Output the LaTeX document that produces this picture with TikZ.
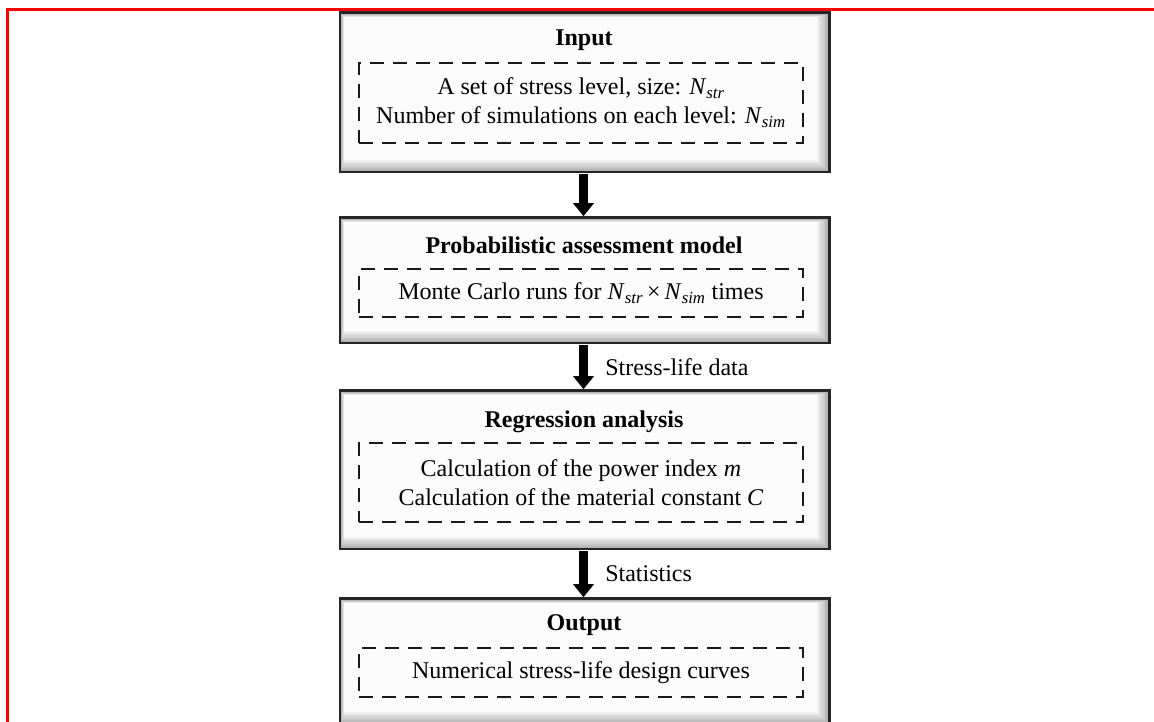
\documentclass[tikz,border=0pt]{standalone}
\usepackage{fontspec}
\setmainfont{Liberation Serif}
\usepackage{tikz}
\usetikzlibrary{positioning, arrows.meta, calc}
\tikzset{
  flowchart/.style={
	x=1pt, y=1pt, % one unit is one pixel of the picture
	font=\fontsize{24}{29}\selectfont, % size of all texts
  },
  stagebox/.style={draw=black!85, line width=2.5pt, fill=gray!65, minimum width=487pt, inner sep=0pt}, % the outer bevelled frame
  heading/.style={font=\fontsize{24}{29}\selectfont\bfseries, inner sep=0pt}, % bold title of a stage
  detail/.style={draw=black!90, line width=1.8pt, dash pattern=on 14pt off 9pt, minimum width=444pt, align=center, inner sep=0pt}, % dashed inner box
  flowarrow/.style={-{Triangle[width=20pt, length=13pt]}, line width=9.5pt, black, shorten <=2pt, shorten >=1.5pt}, % thick arrow between stages
  edgelabel/.style={right=17pt, inner sep=0pt, anchor=west}, % text beside an arrow
}
% bevel inside a stage box, drawn as layers from grey to white
\newcommand{\bevel}[1]{%
  \foreach \k in {0,...,10}{
	\pgfmathsetmacro{\shade}{int(62-6*\k)}
	\fill[gray!\shade] ($(#1.north west)+(1.2+0.35*\k,-1.2-0.35*\k)$) rectangle ($(#1.south east)+(-1.2-1.1*\k,1.2+1.1*\k)$);
  }
  \draw[draw=black!85, line width=2.5pt] (#1.north west) rectangle (#1.south east);
}
\newcommand{\Nsub}[1]{\textit{N}\textsubscript{\textit{#1}}}

\begin{document}
\begin{tikzpicture}[flowchart]
	  \useasboundingbox (0,0) rectangle (1154,722);
	  \draw[red, line width=3pt] (7.5,0) |- (1154,712);
	  % stages
	  \node[stagebox, minimum height=157pt] (inp) at (584.5,629.5) {};
	  \bevel{inp}
	  \node[heading] (inpT) at (584,682) {Input};
	  \node[detail, minimum height=80pt] (inpD) at (581,619) {A set of stress level, size: \Nsub{str}\\Number of simulations on each level: \Nsub{sim}};
	  \node[stagebox, minimum height=123pt] (pam) at (584.5,441.5) {};
	  \bevel{pam}
	  \node[heading] (pamT) at (584,477) {Probabilistic assessment model};
	  \node[detail, minimum height=48pt] (pamD) at (581,429) {Monte Carlo runs for \Nsub{str}\,×\,\Nsub{sim} times};
	  \node[stagebox, minimum height=156pt] (reg) at (584.5,252) {};
	  \bevel{reg}
	  \node[heading] (regT) at (584,300) {Regression analysis};
	  \node[detail, minimum height=79pt] (regD) at (581,239.5) {Calculation of the power index \textit{m}\\Calculation of the material constant \textit{C}};
	  \node[stagebox, minimum height=123pt] (out) at (584.5,60.5) {};
	  \bevel{out}
	  \node[heading] (outT) at (584,97) {Output};
	  \node[detail, minimum height=49pt] (outD) at (581,49.5) {Numerical stress-life design curves};
	  % arrows
	  \draw[flowarrow] ([xshift=-1pt]inp.south) -- ([xshift=-1pt]pam.north);
	  \draw[flowarrow] ([xshift=-1pt]pam.south) -- node[edgelabel] (sld) {Stress-life data} ([xshift=-1pt]reg.north);
	  \draw[flowarrow] ([xshift=-1pt]reg.south) -- node[edgelabel] (sts) {Statistics} ([xshift=-1pt]out.north);
\end{tikzpicture}
\end{document}
